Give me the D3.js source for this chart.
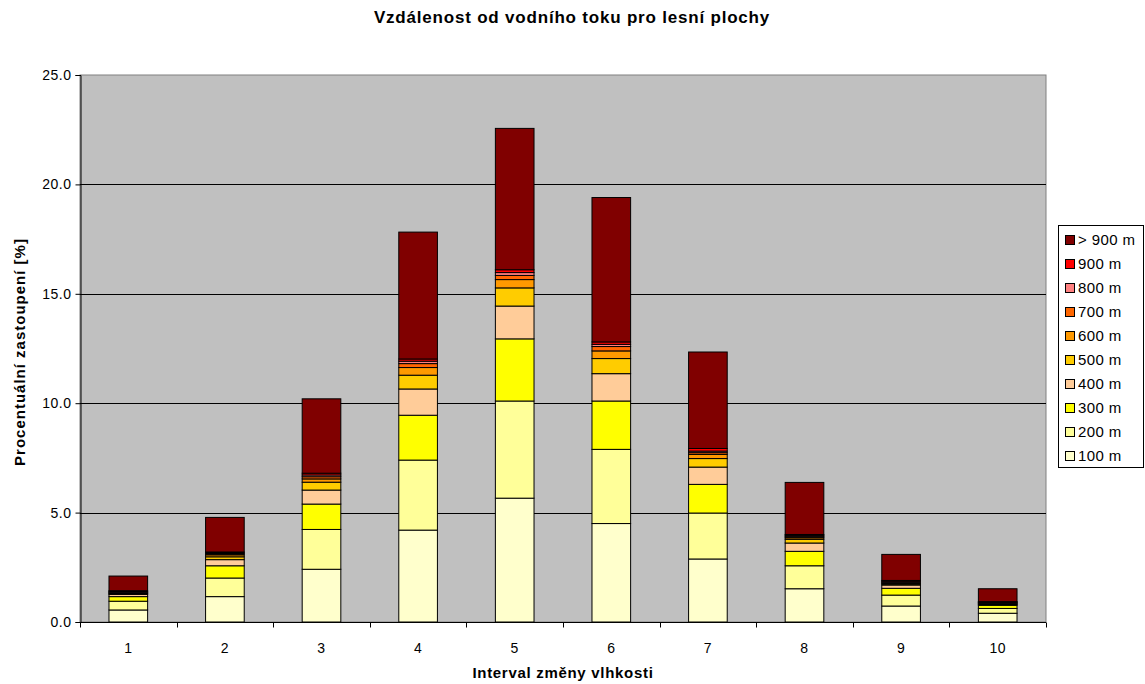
<!DOCTYPE html>
<html>
<head>
<meta charset="utf-8">
<script src="https://cdn.jsdelivr.net/npm/d3@7"></script>
<style>
  body { margin: 0; background: #fff; }
  text { font-family: "Liberation Sans", Arial, sans-serif; fill: #000; }
</style>
</head>
<body>
<svg id="chart" width="1145" height="684"></svg>
<script>
// categories (interval of moisture change)
const categories = ['1', '2', '3', '4', '5', '6', '7', '8', '9', '10']

// series names, bottom to top
const seriesNames = ['100 m', '200 m', '300 m', '400 m', '500 m', '600 m', '700 m', '800 m', '900 m', '> 900 m']
const seriesColors = ['#FFFFCC', '#FFFF99', '#FFFF00', '#FFCC99', '#FFCC00', '#FF9900', '#FF6600', '#FF8080', '#FF0000', '#800000']

// values per series [%], one per category
const s100 = [0.55, 1.16, 2.41, 4.20, 5.66, 4.50, 2.88, 1.52, 0.73, 0.40]
const s200 = [0.40, 0.85, 1.82, 3.20, 4.44, 3.39, 2.10, 1.05, 0.50, 0.22]
const s300 = [0.21, 0.56, 1.16, 2.05, 2.84, 2.21, 1.31, 0.66, 0.31, 0.14]
const s400 = [0.10, 0.28, 0.64, 1.20, 1.50, 1.25, 0.79, 0.38, 0.15, 0.04]
const s500 = [0.04, 0.13, 0.36, 0.63, 0.83, 0.69, 0.39, 0.17, 0.05, 0.03]
const s600 = [0.03, 0.09, 0.15, 0.35, 0.38, 0.35, 0.19, 0.07, 0.04, 0.03]
const s700 = [0.03, 0.05, 0.10, 0.18, 0.19, 0.20, 0.08, 0.05, 0.04, 0.02]
const s800 = [0.03, 0.04, 0.08, 0.11, 0.13, 0.10, 0.07, 0.05, 0.04, 0.03]
const s900 = [0.04, 0.04, 0.08, 0.10, 0.13, 0.11, 0.12, 0.05, 0.04, 0.02]
const sOver = [0.67, 1.58, 3.40, 5.80, 6.46, 6.60, 4.41, 2.38, 1.19, 0.59]

const yTicks = [0, 5, 10, 15, 20, 25]

const allSeries = [s100, s200, s300, s400, s500, s600, s700, s800, s900, sOver]

// build a table for d3.stack
const table = categories.map((c, i) => {
  let row = {cat: c}
  seriesNames.forEach((name, k) => { row[name] = allSeries[k][i] })
  return row
})

const svg = d3.select('#chart')
const plot = {left: 80, top: 75, right: 1046, bottom: 622}

const x = d3.scaleBand()
  .domain(categories)
  .range([plot.left, plot.right])
  .paddingInner(0.6)
  .paddingOuter(0.3)

const y = d3.scaleLinear()
  .domain([0, 25])
  .range([plot.bottom, plot.top])

const color = d3.scaleOrdinal().domain(seriesNames).range(seriesColors)

// plot area background
svg.append('rect')
  .attr('x', plot.left)
  .attr('y', plot.top)
  .attr('width', plot.right - plot.left)
  .attr('height', plot.bottom - plot.top)
  .attr('fill', '#C0C0C0')
  .attr('stroke', '#808080')
  .attr('stroke-width', 1)

// gridlines
svg.append('g')
  .selectAll('line')
  .data(yTicks.filter((t) => t > 0 && t < 25))
  .enter()
  .append('line')
  .attr('x1', plot.left)
  .attr('x2', plot.right)
  .attr('y1', (d) => Math.round(y(d)) + 0.5)
  .attr('y2', (d) => Math.round(y(d)) + 0.5)
  .attr('stroke', '#000')
  .attr('stroke-width', 1)

// stacked bars
const stacked = d3.stack().keys(seriesNames)(table)

svg.append('g')
  .selectAll('g')
  .data(stacked)
  .enter()
  .append('g')
  .attr('fill', (d) => color(d.key))
  .selectAll('rect')
  .data((d) => d)
  .enter()
  .append('rect')
  .attr('x', (d) => x(d.data.cat))
  .attr('width', x.bandwidth())
  .attr('y', (d) => y(d[1]))
  .attr('height', (d) => y(d[0]) - y(d[1]))
  .attr('stroke', '#000')
  .attr('stroke-width', 1)

// y axis
const yAxis = svg.append('g')
  .attr('transform', `translate(${plot.left + 0.5},0)`)
  .call(d3.axisLeft(y).tickValues(yTicks).tickFormat(d3.format('.1f')).tickSize(5).tickPadding(4))
yAxis.select('.domain').attr('stroke', '#000')
yAxis.selectAll('text')
  .style('font-size', '14px')
  .style('letter-spacing', '0.5px')

// x axis with ticks between categories
const xAxisG = svg.append('g')
  .attr('transform', `translate(0,${plot.bottom + 0.5})`)
xAxisG.append('line')
  .attr('x1', plot.left)
  .attr('x2', plot.right)
  .attr('stroke', '#000')
const boundaries = d3.range(categories.length + 1).map((i) => plot.left + i * (plot.right - plot.left) / categories.length)
xAxisG.selectAll('.xtick')
  .data(boundaries)
  .enter()
  .append('line')
  .attr('class', 'xtick')
  .attr('x1', (d) => Math.round(d) + 0.5)
  .attr('x2', (d) => Math.round(d) + 0.5)
  .attr('y1', 0)
  .attr('y2', 5)
  .attr('stroke', '#000')
xAxisG.selectAll('.xlabel')
  .data(categories)
  .enter()
  .append('text')
  .attr('class', 'xlabel')
  .attr('x', (d) => x(d) + x.bandwidth() / 2)
  .attr('y', 30)
  .attr('text-anchor', 'middle')
  .style('font-size', '14px')
  .style('letter-spacing', '0.5px')
  .text((d) => d)

// title and axis titles
svg.append('text')
  .attr('x', 572)
  .attr('y', 23)
  .attr('text-anchor', 'middle')
  .style('font-size', '17px')
  .style('font-weight', 'bold')
  .style('letter-spacing', '0.8px')
  .text('Vzdálenost od vodního toku pro lesní plochy')

svg.append('text')
  .attr('x', 563)
  .attr('y', 678)
  .attr('text-anchor', 'middle')
  .style('font-size', '15px')
  .style('font-weight', 'bold')
  .style('letter-spacing', '0.7px')
  .text('Interval změny vlhkosti')

svg.append('text')
  .attr('transform', 'translate(25,352) rotate(-90)')
  .attr('text-anchor', 'middle')
  .style('font-size', '15px')
  .style('font-weight', 'bold')
  .style('letter-spacing', '1px')
  .text('Procentuální zastoupení [%]')

// legend, top entry is the last series
const legend = svg.append('g').attr('transform', 'translate(1058,225)')
legend.append('rect')
  .attr('x', 0.5)
  .attr('y', 0.5)
  .attr('width', 85)
  .attr('height', 242)
  .attr('fill', '#fff')
  .attr('stroke', '#000')

const items = legend.selectAll('.item')
  .data(seriesNames.slice().reverse())
  .enter()
  .append('g')
  .attr('class', 'item')
  .attr('transform', (d, i) => `translate(0,${15 + i * 24})`)
items.append('rect')
  .attr('x', 7.5)
  .attr('y', -4.5)
  .attr('width', 9)
  .attr('height', 9)
  .attr('fill', (d) => color(d))
  .attr('stroke', '#000')
items.append('text')
  .attr('x', 20)
  .attr('y', 5)
  .style('font-size', '15px')
  .style('letter-spacing', '0.4px')
  .text((d) => d)
</script>
</body>
</html>
